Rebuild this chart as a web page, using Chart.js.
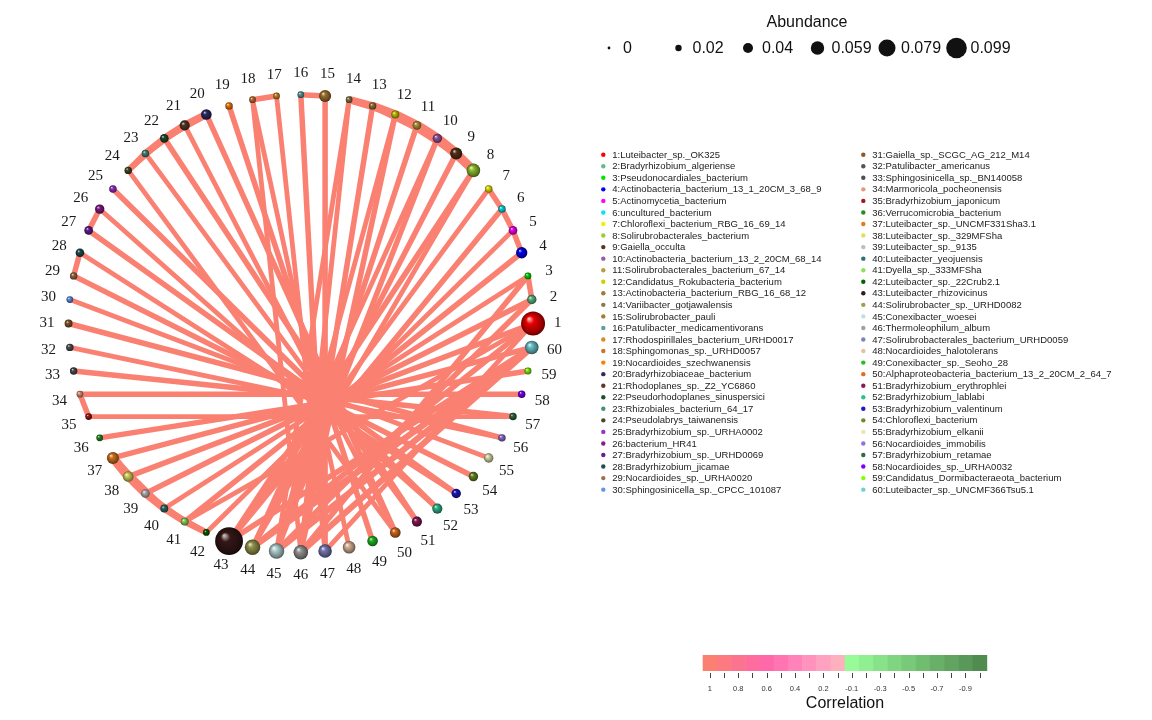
<!DOCTYPE html>
<html lang="en">
<head>
  <meta charset="utf-8">
  <title>Co-occurrence network</title>
  <style>
    body { margin: 0; background: #fff; }
  </style>
  <script src="https://cdn.jsdelivr.net/npm/chart.js"></script>
</head>
<body>
  <canvas id="net" width="1152" height="720"></canvas>
  <script>
    // species names, in node order (node 1 at 3 o'clock, counter-clockwise)
    const nodeNames = [
      'Luteibacter_sp._OK325', 'Bradyrhizobium_algeriense', 'Pseudonocardiales_bacterium',
      'Actinobacteria_bacterium_13_1_20CM_3_68_9', 'Actinomycetia_bacterium', 'uncultured_bacterium',
      'Chloroflexi_bacterium_RBG_16_69_14', 'Solirubrobacterales_bacterium', 'Gaiella_occulta',
      'Actinobacteria_bacterium_13_2_20CM_68_14', 'Solirubrobacterales_bacterium_67_14', 'Candidatus_Rokubacteria_bacterium',
      'Actinobacteria_bacterium_RBG_16_68_12', 'Variibacter_gotjawalensis', 'Solirubrobacter_pauli',
      'Patulibacter_medicamentivorans', 'Rhodospirillales_bacterium_URHD0017', 'Sphingomonas_sp._URHD0057',
      'Nocardioides_szechwanensis', 'Bradyrhizobiaceae_bacterium', 'Rhodoplanes_sp._Z2_YC6860',
      'Pseudorhodoplanes_sinuspersici', 'Rhizobiales_bacterium_64_17', 'Pseudolabrys_taiwanensis',
      'Bradyrhizobium_sp._URHA0002', 'bacterium_HR41', 'Bradyrhizobium_sp._URHD0069',
      'Bradyrhizobium_jicamae', 'Nocardioides_sp._URHA0020', 'Sphingosinicella_sp._CPCC_101087',
      'Gaiella_sp._SCGC_AG_212_M14', 'Patulibacter_americanus', 'Sphingosinicella_sp._BN140058',
      'Marmoricola_pocheonensis', 'Bradyrhizobium_japonicum', 'Verrucomicrobia_bacterium',
      'Luteibacter_sp._UNCMF331Sha3.1', 'Luteibacter_sp._329MFSha', 'Luteibacter_sp._9135',
      'Luteibacter_yeojuensis', 'Dyella_sp._333MFSha', 'Luteibacter_sp._22Crub2.1',
      'Luteibacter_rhizovicinus', 'Solirubrobacter_sp._URHD0082', 'Conexibacter_woesei',
      'Thermoleophilum_album', 'Solirubrobacterales_bacterium_URHD0059', 'Nocardioides_halotolerans',
      'Conexibacter_sp._Seoho_28', 'Alphaproteobacteria_bacterium_13_2_20CM_2_64_7', 'Bradyrhizobium_erythrophlei',
      'Bradyrhizobium_lablabi', 'Bradyrhizobium_valentinum', 'Chloroflexi_bacterium',
      'Bradyrhizobium_elkanii', 'Nocardioides_immobilis', 'Bradyrhizobium_retamae',
      'Nocardioides_sp._URHA0032', 'Candidatus_Dormibacteraeota_bacterium', 'Luteibacter_sp._UNCMF366Tsu5.1'
    ];

    const nodeColors = [
      '#ff0000', '#5fbf8a', '#00e600', '#0000ff', '#ff00ff', '#00e5ee', '#f0f000', '#9acd32', '#5c3317', '#9b59a6',
      '#b8a040', '#d0d000', '#a07838', '#8b7a4b', '#a87a30', '#5f9ea0', '#d98a20', '#c87533', '#ff8000', '#2c2c6c',
      '#5a3a28', '#1f4f2f', '#468f80', '#4a4a28', '#9932cc', '#8b1a8b', '#6a1b9a', '#1f4f4f', '#a0704a', '#6495ed',
      '#8b5a2b', '#555555', '#505050', '#e9967a', '#a01818', '#1f8f1f', '#e07b20', '#e0e060', '#bdbdbd', '#2f6f6f',
      '#8ee060', '#006400', '#3a1a1a', '#a0a050', '#c0e0e0', '#a0a0a0', '#8080c0', '#e8c0a0', '#22c022', '#e07020',
      '#8b1a5a', '#30c090', '#1a1acc', '#6b8e23', '#e8e8b0', '#9370db', '#2e6b3e', '#8000ff', '#80ff00', '#70d0d8'
    ];

    const abundance = [
      0.083, 0.023, 0.012, 0.031, 0.020, 0.015, 0.015, 0.040, 0.034, 0.023,
      0.020, 0.017, 0.015, 0.012, 0.034, 0.012, 0.012, 0.012, 0.015, 0.028,
      0.026, 0.020, 0.015, 0.015, 0.015, 0.023, 0.020, 0.020, 0.015, 0.012,
      0.017, 0.015, 0.015, 0.012, 0.012, 0.012, 0.034, 0.028, 0.020, 0.017,
      0.017, 0.012, 0.099, 0.048, 0.048, 0.044, 0.040, 0.036, 0.028, 0.028,
      0.026, 0.026, 0.023, 0.023, 0.023, 0.015, 0.015, 0.015, 0.013, 0.040
    ];

    // edges: [from node, to node, correlation]
    const edges = [
      [2, 3, 0.90], [4, 5, 0.90], [5, 6, 0.90], [6, 7, 0.90],
      [8, 9, 0.95], [9, 10, 0.96], [10, 11, 0.96], [11, 12, 0.95], [12, 13, 0.94], [13, 14, 0.93],
      [8, 10, 0.93], [9, 11, 0.93], [10, 12, 0.92], [11, 13, 0.92], [12, 14, 0.91], [9, 12, 0.92], [10, 13, 0.91],
      [15, 16, 0.90], [17, 18, 0.90],
      [20, 21, 0.93], [21, 22, 0.93], [22, 23, 0.92], [23, 24, 0.91], [20, 22, 0.91], [21, 23, 0.91], [22, 24, 0.90],
      [26, 27, 0.90], [28, 29, 0.90], [34, 35, 0.90],
      [37, 38, 0.95], [38, 39, 0.94], [39, 40, 0.93], [40, 41, 0.92], [41, 42, 0.91],
      [37, 39, 0.92], [38, 40, 0.92], [39, 41, 0.91], [40, 42, 0.90], [37, 40, 0.90],
      [1, 38, 0.90], [1, 41, 0.89], [2, 39, 0.90], [3, 40, 0.89], [4, 41, 0.90], [5, 42, 0.89],
      [6, 43, 0.90], [7, 43, 0.89], [8, 43, 0.90], [8, 44, 0.89], [9, 44, 0.90], [10, 44, 0.89],
      [10, 45, 0.90], [11, 45, 0.90], [12, 45, 0.89], [12, 46, 0.90], [13, 46, 0.90], [14, 46, 0.89],
      [14, 45, 0.89], [15, 47, 0.90], [16, 47, 0.90], [17, 47, 0.89], [18, 46, 0.89], [19, 49, 0.90],
      [20, 50, 0.90], [21, 50, 0.89], [22, 51, 0.90], [23, 51, 0.89], [24, 50, 0.89], [25, 52, 0.90],
      [26, 52, 0.89], [27, 53, 0.90], [28, 53, 0.89], [29, 54, 0.90], [30, 55, 0.89], [31, 56, 0.90],
      [32, 56, 0.89], [33, 57, 0.90], [34, 58, 0.90], [35, 57, 0.89], [36, 59, 0.90], [37, 60, 0.90],
      [44, 60, 0.91], [44, 1, 0.90], [45, 60, 0.91], [45, 2, 0.90], [46, 60, 0.91], [46, 3, 0.90],
      [47, 1, 0.89], [48, 18, 0.89], [43, 60, 0.90]
    ];

    const sizeLegendValues = [0, 0.02, 0.04, 0.059, 0.079, 0.099];
    const corrTickLabels = ['1', '0.8', '0.6', '0.4', '0.2', '-0.1', '-0.3', '-0.5', '-0.7', '-0.9'];
    const corrColors = [
      '#fb8071', '#fc7a80', '#fc738f', '#fe6d9d', '#ff69aa', '#ff74b1', '#ff83b8', '#ff93be', '#ffa2c2', '#ffb0be',
      '#98fb98', '#90ef90', '#88e288', '#80d680', '#78ca78', '#70bd70', '#68b068', '#60a460', '#589858', '#508b50'
    ];

    // layout
    const W = 1152, H = 720, CX = 294, CY = 322, R = 238;

    function nodeAngle(i) { return i * 2 * Math.PI / nodeNames.length; }
    function nodePos(i) { return { x: R * Math.cos(nodeAngle(i)), y: R * Math.sin(nodeAngle(i)) }; }
    function nodeRadius(a) { return 1.9 + 121.5 * a; }
    function legendRadius(a) { return 1.4 + 90 * a; }
    function edgeColor(c) { return c >= 0 ? '#fa8072' : '#6aa86a'; }
    function edgeWidth(c) { return 5.5 + (Math.abs(c) - 0.9) * 70; }

    function mix(hex, target, t) {
      const a = parseInt(hex.slice(1), 16), b = parseInt(target.slice(1), 16);
      const ch = s => [(s >> 16) & 255, (s >> 8) & 255, s & 255];
      const ca = ch(a), cb = ch(b);
      return 'rgb(' + ca.map((v, k) => Math.round(v + (cb[k] - v) * t)).join(',') + ')';
    }

    // shaded ball fill, centred on the point's pixel position
    function sphere(ctx) {
      if (ctx.type !== 'data') return '#888';
      const i = ctx.dataIndex;
      const col = nodeColors[i];
      const ch = ctx.chart;
      const px = ch.scales.x.getPixelForValue(ctx.raw.x);
      const py = ch.scales.y.getPixelForValue(ctx.raw.y);
      if (!isFinite(px) || !isFinite(py)) return col;
      const r = nodeRadius(abundance[i]);
      const g = ch.ctx.createRadialGradient(px - r * 0.35, py - r * 0.4, r * 0.05, px, py, r);
      g.addColorStop(0, mix(col, '#ffffff', 0.7));
      g.addColorStop(0.3, mix(col, '#000000', 0.1));
      g.addColorStop(0.8, mix(col, '#000000', 0.4));
      g.addColorStop(1, mix(col, '#000000', 0.6));
      return g;
    }

    const nodeDataset = {
      label: 'nodes',
      data: nodeNames.map((n, i) => nodePos(i)),
      pointRadius: ctx => ctx.type === 'data' ? nodeRadius(abundance[ctx.dataIndex]) : 3,
      pointBackgroundColor: sphere,
      pointBorderWidth: 0,
      order: 0
    };

    const edgeDatasets = edges.map(e => ({
      label: e[0] + '-' + e[1],
      data: [nodePos(e[0] - 1), nodePos(e[1] - 1)],
      showLine: true,
      borderColor: edgeColor(e[2]),
      borderWidth: edgeWidth(e[2]),
      borderCapStyle: 'butt',
      pointRadius: 0,
      order: 1
    }));

    const decor = {
      id: 'decor',
      afterDatasetsDraw(chart) {
        const c = chart.ctx;
        const meta = chart.getDatasetMeta(0);
        const cx = chart.scales.x.getPixelForValue(0), cy = chart.scales.y.getPixelForValue(0);
        c.save();
        c.fillStyle = '#1a1a1a';
        c.font = '15px "Liberation Serif", serif';
        c.textAlign = 'center';
        c.textBaseline = 'middle';
        meta.data.forEach((pt, i) => {
          const dx = pt.x - cx, dy = pt.y - cy, d = Math.hypot(dx, dy);
          const lr = d + 20 + 0.4 * nodeRadius(abundance[i]);
          c.fillText(String(i + 1), cx + dx / d * lr, cy + dy / d * lr);
        });
        c.restore();
      },
      afterDraw(chart) {
        const c = chart.ctx;
        c.save();
        // abundance legend
        c.fillStyle = '#111';
        c.font = '16px "Liberation Sans", Arial, sans-serif';
        c.textAlign = 'center';
        c.textBaseline = 'middle';
        c.fillText('Abundance', 807, 23);
        c.textAlign = 'left';
        sizeLegendValues.forEach((v, k) => {
          const x = 609 + k * 69.5;
          c.beginPath();
          c.arc(x, 48, legendRadius(v), 0, 2 * Math.PI);
          c.fill();
          c.fillText(String(v), x + 14, 49);
        });

        // species legend
        c.font = '9.5px "Liberation Sans", Arial, sans-serif';
        c.textBaseline = 'middle';
        nodeNames.forEach((n, i) => {
          const col = Math.floor(i / 30), row = i % 30;
          const x = col === 0 ? 603.3 : 863.3;
          const y = 154.7 + row * 11.55;
          c.fillStyle = nodeColors[i];
          c.beginPath();
          c.arc(x, y, 2.2, 0, 2 * Math.PI);
          c.fill();
          c.fillStyle = '#222';
          c.fillText((i + 1) + ':' + n, x + 9, y + 0.5);
        });

        // correlation colour bar
        const bx = 702.7, by = 655, bw = 284 / corrColors.length, bh = 16;
        corrColors.forEach((col, k) => {
          c.fillStyle = col;
          c.fillRect(bx + k * bw, by, bw + 0.5, bh);
        });
        c.strokeStyle = '#444';
        c.lineWidth = 1;
        corrColors.forEach((col, k) => {
          const x = Math.round(bx + (k + 0.5) * bw) + 0.5;
          c.beginPath();
          c.moveTo(x, by + bh + 2);
          c.lineTo(x, by + bh + 7);
          c.stroke();
        });
        c.fillStyle = '#333';
        c.font = '7.5px "Liberation Sans", Arial, sans-serif';
        c.textAlign = 'center';
        corrTickLabels.forEach((t, k) => {
          c.fillText(t, bx + (2 * k + 0.5) * bw, 689);
        });
        c.fillStyle = '#111';
        c.font = '16px "Liberation Sans", Arial, sans-serif';
        c.fillText('Correlation', 845, 704);
        c.restore();
      }
    };

    new Chart(document.getElementById('net'), {
      type: 'scatter',
      data: { datasets: [nodeDataset].concat(edgeDatasets) },
      options: {
        responsive: false,
        animation: false,
        events: [],
        layout: { padding: 0 },
        scales: {
          x: { type: 'linear', min: -CX, max: W - CX, display: false },
          y: { type: 'linear', min: -(H - CY), max: CY, display: false }
        },
        plugins: {
          legend: { display: false },
          tooltip: { enabled: false }
        }
      },
      plugins: [decor]
    });
  </script>
</body>
</html>
